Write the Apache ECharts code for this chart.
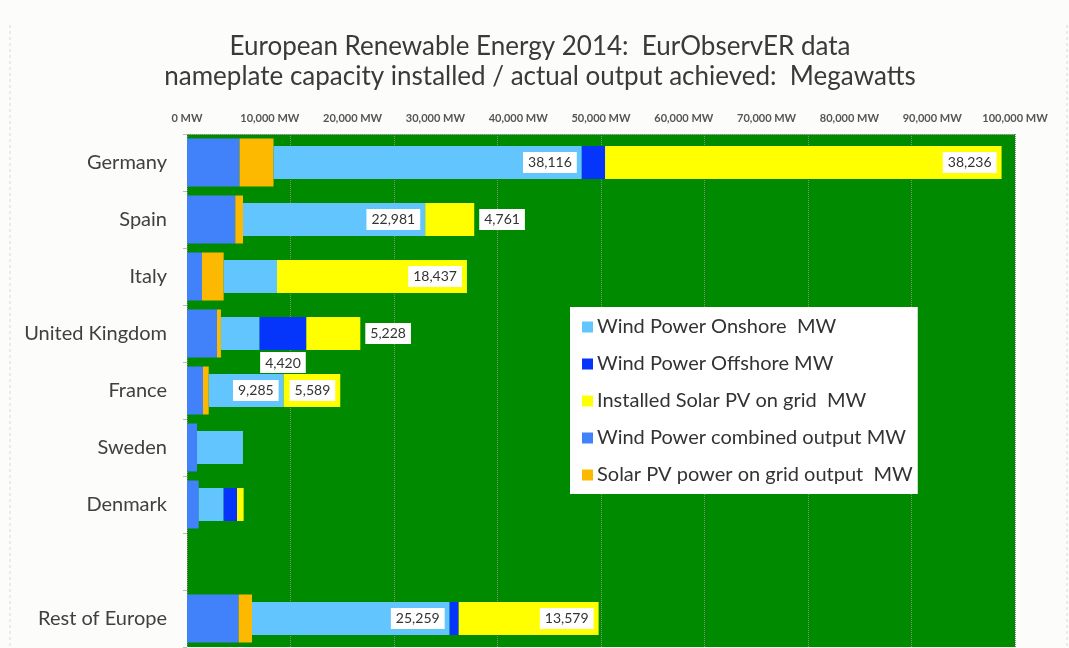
<!DOCTYPE html>
<html>
<head>
<meta charset="utf-8">
<script src="https://cdn.jsdelivr.net/npm/echarts@6/dist/echarts.min.js"></script>
<style>
  html, body { margin: 0; padding: 0; background: #FCFCFA; }
  #chart { width: 1069px; height: 648px; }
</style>
</head>
<body>
<div id="chart"></div>
<script>
// ---- data (MW) ----
const countries = ['Germany', 'Spain', 'Italy', 'United Kingdom', 'France', 'Sweden', 'Denmark', '', 'Rest of Europe'];
const windOutput     = [6350, 5830, 1810, 3620, 1930, 1210, 1410, null, 6240];
const solarOutput    = [4100,  930, 2620,  480,  690,    0,    0, null, 1610];
const windOnshore    = [37230, 22010, 6440, 4670, 9050, 5550, 3020, null, 23870];
const windOffshore   = [2810,    0,    0, 5640,    0,    0, 1610, null, 1090];
const solarInstalled = [47890, 5920, 22940, 6520, 6840,   0,  800, null, 16900];
const onshoreLabels  = ['38,116', '22,981', '', '', '9,285', '', '', '', '25,259'];
const offshoreLabels = ['', '', '', '4,420', '', '', '', '', ''];
const solarLabels    = ['38,236', '4,761', '18,437', '5,228', '5,589', '', '', '', '13,579'];
const xTicks = [0, 10000, 20000, 30000, 40000, 50000, 60000, 70000, 80000, 90000, 100000];

const FONT = 'Lato';
const names = {
  on: 'Wind Power Onshore  MW',
  off: 'Wind Power Offshore MW',
  solar: 'Installed Solar PV on grid  MW',
  wout: 'Wind Power combined output MW',
  sout: 'Solar PV power on grid output  MW'
};

const labelBox = {
  show: true,
  backgroundColor: '#ffffff',
  color: '#333333',
  fontFamily: FONT,
  fontSize: 14,
  padding: [4, 5, 3, 5]
};

// label placement (style only)
const placeOverride = { solar: { 1: 'right', 3: 'right' }, off: { 3: 'bottom' } };

function withLabels(values, labels, key) {
  return values.map(function (v, i) {
    const txt = labels[i];
    if (!txt) return { value: v, label: { show: false } };
    const pos = (placeOverride[key] && placeOverride[key][i]) || 'insideRight';
    return {
      value: v,
      label: Object.assign({}, labelBox, {
        position: pos,
        distance: pos === 'bottom' ? 2 : 5,
        formatter: txt
      })
    };
  });
}

const base = windOutput.map(function (v, i) {
  return v == null ? null : v + solarOutput[i];
});

const chart = echarts.init(document.getElementById('chart'));
chart.setOption({
  animation: false,
  backgroundColor: '#FCFCFA',
  textStyle: { fontFamily: FONT },
  title: {
    text: 'European Renewable Energy 2014:  EurObservER data\nnameplate capacity installed / actual output achieved:  Megawatts',
    left: 540,
    textAlign: 'center',
    top: 32,
    padding: 0,
    textStyle: { fontFamily: FONT, fontSize: 26, fontWeight: 'normal', color: '#3a3a3a', lineHeight: 30 }
  },
  legend: {
    orient: 'vertical',
    left: 570,
    top: 307,
    backgroundColor: '#ffffff',
    padding: [10, 5, 9, 12],
    itemGap: 17,
    itemWidth: 11,
    itemHeight: 11,
    icon: 'rect',
    textStyle: { fontFamily: FONT, fontSize: 20, color: '#333333', padding: [0, 0, 0, -1] },
    data: [names.on, names.off, names.solar, names.wout, names.sout]
  },
  grid: {
    left: 187,
    right: 54,
    top: 134,
    height: 513,
    show: true,
    backgroundColor: '#008A00',
    borderWidth: 0,
    containLabel: false
  },
  xAxis: [
    {
      type: 'value',
      position: 'top',
      min: xTicks[0],
      max: xTicks[xTicks.length - 1],
      interval: xTicks[1] - xTicks[0],
      axisLabel: {
        color: '#555555',
        fontFamily: FONT,
        fontSize: 11,
        fontWeight: 'bold',
        margin: 10,
        formatter: function (v) { return v.toLocaleString('en-US') + ' MW'; }
      },
      axisLine: { show: true, lineStyle: { color: '#9aa89a', type: 'dotted', width: 1 } },
      axisTick: { show: false },
      splitLine: { show: false }
    },
    {
      type: 'value',
      position: 'bottom',
      min: 0,
      max: 100000,
      interval: 12500,
      axisLabel: { show: false },
      axisLine: { show: false },
      axisTick: { show: false },
      splitLine: { show: true, lineStyle: { color: '#7f937f', type: 'dotted', width: 1 } }
    }
  ],
  yAxis: [
    {
      type: 'category',
      inverse: true,
      data: countries,
      axisLine: { show: false },
      axisTick: { show: true, length: 4, lineStyle: { color: '#bbbbbb' } },
      axisLabel: { color: '#404040', fontFamily: FONT, fontSize: 20, margin: 20 }
    },
    {
      type: 'category',
      inverse: true,
      data: countries,
      show: false
    }
  ],
  series: [
    {
      name: names.wout, type: 'bar', stack: 'out', yAxisIndex: 0, barWidth: 48,
      itemStyle: { color: '#4182FB' }, data: windOutput
    },
    {
      name: names.sout, type: 'bar', stack: 'out', yAxisIndex: 0, barWidth: 48,
      itemStyle: { color: '#FDB900' }, data: solarOutput
    },
    {
      name: 'base', type: 'bar', stack: 'cap', yAxisIndex: 1, barWidth: 33,
      itemStyle: { color: 'rgba(0,0,0,0)' }, silent: true, data: base
    },
    {
      name: names.on, type: 'bar', stack: 'cap', yAxisIndex: 1, barWidth: 33,
      itemStyle: { color: '#62C5FD' }, data: withLabels(windOnshore, onshoreLabels, 'on')
    },
    {
      name: names.off, type: 'bar', stack: 'cap', yAxisIndex: 1, barWidth: 33,
      itemStyle: { color: '#0535FB' }, data: withLabels(windOffshore, offshoreLabels, 'off')
    },
    {
      name: names.solar, type: 'bar', stack: 'cap', yAxisIndex: 1, barWidth: 33,
      itemStyle: { color: '#FFFF00' }, data: withLabels(solarInstalled, solarLabels, 'solar')
    }
  ],
  graphic: [
    { type: 'line', shape: { x1: 10, y1: 25, x2: 10, y2: 648 }, style: { stroke: '#d8d8d8', lineDash: [3, 3], lineWidth: 1 } },
    { type: 'line', shape: { x1: 1067, y1: 25, x2: 1067, y2: 648 }, style: { stroke: '#d8d8d8', lineDash: [3, 3], lineWidth: 1 } }
  ]
});
</script>
</body>
</html>
